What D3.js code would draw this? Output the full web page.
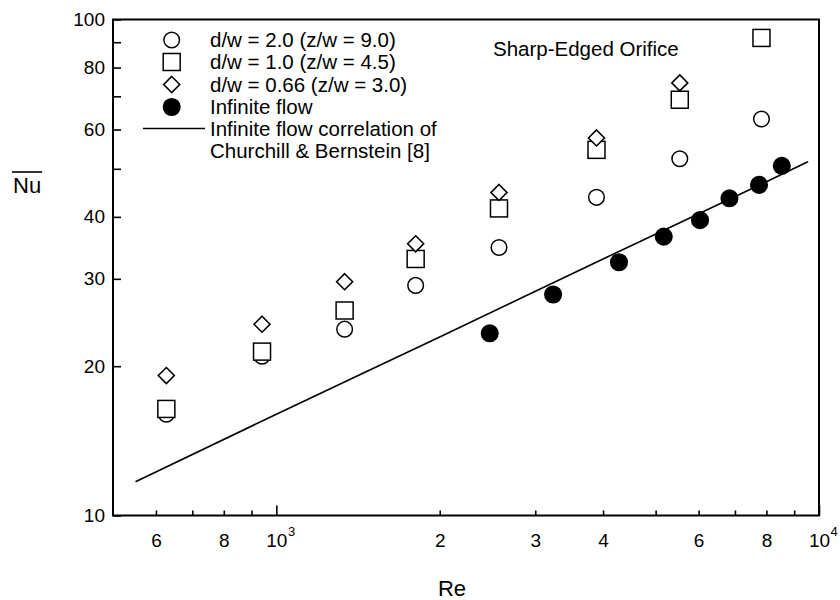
<!DOCTYPE html>
<html>
<head>
<meta charset="utf-8">
<script src="https://cdn.jsdelivr.net/npm/d3@7"></script>
<style>
  body { margin: 0; background: #fff; }
  text { font-family: "Liberation Sans", Arial, Helvetica, sans-serif; fill: #000; }
</style>
</head>
<body>
<svg id="chart" width="840" height="600"></svg>
<script>
// Reynolds numbers for the orifice runs (shared by the three jet configurations)
const reOrifice = [627, 941, 1336, 1806, 2572, 3890, 5539, 7834];
// Mean Nusselt number, d/w = 2.0 (z/w = 9.0)
const nuD20 = [16.0, 20.95, 23.75, 29.1, 34.7, 43.8, 52.4, 63.0];
// Mean Nusselt number, d/w = 1.0 (z/w = 4.5)
const nuD10 = [16.4, 21.4, 25.9, 32.9, 41.6, 54.6, 68.9, 91.8];
// Mean Nusselt number, d/w = 0.66 (z/w = 3.0)
const nuD066 = [19.15, 24.3, 29.6, 35.3, 44.8, 57.7, 74.5];
// Infinite (cross) flow measurements
const reInfinite = [2473, 3236, 4280, 5175, 6036, 6839, 7754, 8540];
const nuInfinite = [23.3, 27.9, 32.4, 36.5, 39.4, 43.6, 46.4, 50.7];
// Churchill & Bernstein correlation curve
const reCorrelation = [550, 1000, 2000, 4000, 8000, 9550];
const nuCorrelation = [11.7, 16.0, 22.9, 32.9, 47.1, 51.7];

// Axis ticks and labels
const xTickValues = [600, 700, 800, 900, 1000, 2000, 3000, 4000, 5000, 6000, 7000, 8000, 9000, 10000];
const xTickLabels = { 600: "6", 800: "8", 1000: "10|3", 2000: "2", 3000: "3", 4000: "4", 6000: "6", 8000: "8", 10000: "10|4" };
const yTickValues = [10, 20, 30, 40, 50, 60, 70, 80, 90, 100];
const yTickLabels = { 10: "10", 20: "20", 30: "30", 40: "40", 60: "60", 80: "80", 100: "100" };

const legendLabels = [
  "d/w = 2.0 (z/w = 9.0)",
  "d/w = 1.0 (z/w = 4.5)",
  "d/w = 0.66 (z/w = 3.0)",
  "Infinite flow",
  "Infinite flow correlation of",
  "Churchill & Bernstein [8]"
];

const svg = d3.select("#chart");
const plot = { left: 113, right: 819, top: 19.5, bottom: 515.5 };

const x = d3.scaleLog().domain([500, 10000]).range([plot.left, plot.right]);
const y = d3.scaleLog().domain([10, 100]).range([plot.bottom, plot.top]);

const tickFont = 19;

// X axis (ticks point inward)
const xAxis = svg.append("g")
  .attr("transform", `translate(0,${plot.bottom})`)
  .call(d3.axisBottom(x).tickValues(xTickValues).tickSize(-5).tickPadding(18)
    .tickFormat(d => xTickLabels[d] || ""));
xAxis.select(".domain").remove();
xAxis.selectAll(".tick line").attr("stroke", "#000").attr("stroke-width", 1.6)
  .attr("y2", d => (d === 1000 || d === 10000) ? -10 : -5);
xAxis.selectAll(".tick text")
  .style("font-size", tickFont + "px")
  .each(function (d) {
    const lab = xTickLabels[d];
    if (lab && lab.includes("|")) {
      const [base, exp] = lab.split("|");
      const t = d3.select(this).text(base);
      const w = this.getComputedTextLength();
      d3.select(this.parentNode).append("text")
        .attr("x", w / 2 + 0.5)
        .attr("y", t.attr("y"))
        .attr("dy", "0.71em")
        .attr("transform", "translate(0,-7)")
        .attr("text-anchor", "start")
        .style("font-size", "13px")
        .text(exp);
    }
  });

// Y axis (ticks point inward)
const yAxis = svg.append("g")
  .attr("transform", `translate(${plot.left},0)`)
  .call(d3.axisLeft(y).tickValues(yTickValues).tickSize(-8).tickPadding(8)
    .tickFormat(d => yTickLabels[d] || ""));
yAxis.select(".domain").remove();
yAxis.selectAll(".tick line").attr("stroke", "#000").attr("stroke-width", 1.6);
yAxis.selectAll(".tick text").style("font-size", tickFont + "px");

// Plot frame
svg.append("rect")
  .attr("x", plot.left).attr("y", plot.top)
  .attr("width", plot.right - plot.left).attr("height", plot.bottom - plot.top)
  .attr("fill", "none").attr("stroke", "#000").attr("stroke-width", 2);

// Axis titles
svg.append("text").attr("x", 452).attr("y", 596).attr("text-anchor", "middle")
  .style("font-size", "22px").text("Re");
const nuLabel = svg.append("text").attr("x", 13).attr("y", 193)
  .style("font-size", "22px").text("Nu");
const nuW = nuLabel.node().getComputedTextLength();
svg.append("line").attr("x1", 12).attr("x2", 13 + nuW + 1).attr("y1", 172).attr("y2", 172)
  .attr("stroke", "#000").attr("stroke-width", 1.6);

// Correlation curve
const lineGen = d3.line().x(d => x(d[0])).y(d => y(d[1])).curve(d3.curveMonotoneX);
svg.append("path")
  .datum(reCorrelation.map((r, i) => [r, nuCorrelation[i]]))
  .attr("d", lineGen)
  .attr("fill", "none").attr("stroke", "#000").attr("stroke-width", 1.6);

// Marker shapes
const R = 7.8;
const sq = 8.5;
const dm = 8;
function circle(g, cx, cy, filled) {
  g.append("circle").attr("cx", cx).attr("cy", cy).attr("r", filled ? 8.3 : R)
    .attr("fill", filled ? "#000" : "#fff").attr("stroke", "#000").attr("stroke-width", 1.5);
}
function square(g, cx, cy) {
  g.append("rect").attr("x", cx - sq).attr("y", cy - sq).attr("width", 2 * sq).attr("height", 2 * sq)
    .attr("fill", "#fff").attr("stroke", "#000").attr("stroke-width", 1.5);
}
function diamond(g, cx, cy) {
  g.append("path").attr("d", `M${cx},${cy - dm}L${cx + dm},${cy}L${cx},${cy + dm}L${cx - dm},${cy}Z`)
    .attr("fill", "#fff").attr("stroke", "#000").attr("stroke-width", 1.6);
}

const marks = svg.append("g");
nuD20.forEach((v, i) => circle(marks, x(reOrifice[i]), y(v), false));
nuD10.forEach((v, i) => square(marks, x(reOrifice[i]), y(v)));
nuD066.forEach((v, i) => diamond(marks, x(reOrifice[i]), y(v)));
nuInfinite.forEach((v, i) => circle(marks, x(reInfinite[i]), y(nuInfinite[i]), true));

// Legend
const legend = svg.append("g");
const legY = [40, 62, 84.5, 107, 128.5, 151];
const legX = 171.7;
circle(legend, legX, legY[0], false);
square(legend, legX, legY[1]);
diamond(legend, legX, legY[2]);
circle(legend, legX, legY[3], true);
legend.append("line").attr("x1", 143).attr("x2", 205).attr("y1", legY[4]).attr("y2", legY[4])
  .attr("stroke", "#000").attr("stroke-width", 1.5);
legendLabels.forEach((t, i) => {
  legend.append("text").attr("x", 210).attr("y", legY[i]).attr("dy", "0.35em")
    .style("font-size", "20.5px").text(t);
});

// Configuration note
svg.append("text").attr("x", 493).attr("y", 49).attr("dy", "0.35em")
  .style("font-size", "20.5px").text("Sharp-Edged Orifice");
</script>
</body>
</html>
